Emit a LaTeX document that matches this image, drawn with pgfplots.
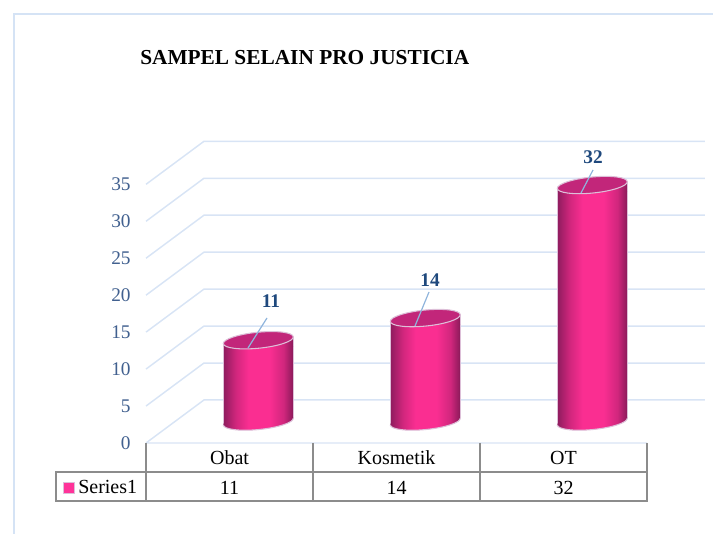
\documentclass[border=0pt]{standalone}
\usepackage{fontspec}
\setmainfont{Liberation Serif}
\usepackage{pgfplots}
\pgfplotsset{compat=1.18}
\definecolor{gridc}{HTML}{D8E4F5}
\definecolor{framec}{HTML}{D5E3F5}
\definecolor{tickc}{HTML}{41608F}
\definecolor{labc}{HTML}{1F497D}
\definecolor{leadc}{HTML}{8FB4DC}
\definecolor{cedge}{HTML}{DDBFD8}
\definecolor{ctop}{HTML}{C2267A}
\definecolor{tabc}{HTML}{8C8C8C}
\pgfdeclarehorizontalshading{cylh}{100bp}{
 rgb(0bp)=(0.56,0.11,0.37);
 rgb(25bp)=(0.56,0.11,0.37);
 rgb(34bp)=(0.82,0.15,0.49);
 rgb(43bp)=(0.98,0.18,0.57);
 rgb(58bp)=(0.98,0.18,0.57);
 rgb(68bp)=(0.82,0.15,0.49);
 rgb(75bp)=(0.54,0.10,0.35);
 rgb(100bp)=(0.54,0.10,0.35)}
\pgfdeclareplotmark{cyltop}{%
  \pgfpathmoveto{\pgfpoint{-26.25pt}{-2.6pt}}
  \pgfpathlineto{\pgfpoint{26.25pt}{2.6pt}}
  \pgfpathlineto{\pgfpoint{26.25pt}{-4.5pt}}
  \pgfpathlineto{\pgfpoint{-26.25pt}{-4.5pt}}
  \pgfpathclose
  \pgfshadepath{cylh}{0}\pgfusepath{discard}
  \pgfsetstrokecolor{cedge}\pgfsetfillcolor{ctop}\pgfsetlinewidth{0.8pt}
  \pgfpathmoveto{\pgfpoint{-26.25pt}{-2.6pt}}
  \pgfpathlineto{\pgfpoint{-26.25pt}{-4.5pt}}
  \pgfpathmoveto{\pgfpoint{26.25pt}{2.6pt}}
  \pgfpathlineto{\pgfpoint{26.25pt}{-4.5pt}}
  \pgfusepath{stroke}
  \pgfpathellipse{\pgfpointorigin}{\pgfpoint{26.24pt}{2.6pt}}{\pgfpoint{-0.6pt}{5.97pt}}
  \pgfusepath{fill,stroke}}
\pgfdeclareplotmark{cylbase}{%
  \pgfsetfillcolor{white}
  \pgfpathmoveto{\pgfpoint{-27.5pt}{-2.7pt}}
  \pgfpathlineto{\pgfpoint{27.5pt}{2.7pt}}
  \pgfpathlineto{\pgfpoint{27.5pt}{-9pt}}
  \pgfpathlineto{\pgfpoint{-27.5pt}{-9pt}}
  \pgfpathclose
  \pgfusepath{fill}
  \begin{pgfscope}
  \pgfpathellipse{\pgfpointorigin}{\pgfpoint{26.24pt}{2.6pt}}{\pgfpoint{-0.6pt}{5.97pt}}
  \pgfusepath{clip}
  \pgfpathrectangle{\pgfpoint{-26.25pt}{-9pt}}{\pgfpoint{52.5pt}{18pt}}
  \pgfshadepath{cylh}{0}\pgfusepath{discard}
  \end{pgfscope}
  \begin{pgfscope}
  \pgfpathmoveto{\pgfpoint{-27.5pt}{-2.7pt}}
  \pgfpathlineto{\pgfpoint{27.5pt}{2.7pt}}
  \pgfpathlineto{\pgfpoint{27.5pt}{-9pt}}
  \pgfpathlineto{\pgfpoint{-27.5pt}{-9pt}}
  \pgfpathclose
  \pgfusepath{clip}
  \pgfsetstrokecolor{cedge}\pgfsetlinewidth{0.8pt}
  \pgfpathellipse{\pgfpointorigin}{\pgfpoint{26.24pt}{2.6pt}}{\pgfpoint{-0.6pt}{5.97pt}}
  \pgfusepath{stroke}
  \end{pgfscope}}
\pgfplotsset{cylbar/.style={ybar,bar width=52.5pt,bar shift=0pt,draw=cedge,line width=0.8pt,shading=cylh,xshift=21.6pt,yshift=13.1pt,forget plot}}
\begin{document}
\begin{tikzpicture}
\useasboundingbox (0,0) rectangle (534.75pt,400.5pt);
\begin{scope}[x=.75pt,y=-.75pt,yshift=400.5pt]
 \draw[framec,line width=1.5pt] (713,14) -- (14,14) -- (14,534);
\end{scope}
\begin{axis}[
  at={(109.5pt,68.25pt)},anchor=south west,
  scale only axis,width=375.75pt,height=194pt,
  xmin=-0.5,xmax=2.5,ymin=0,ymax=35,clip=false,
  axis line style={draw=none},tick style={draw=none},
  xtick={0,1,2},xticklabels={Obat,Kosmetik,OT},
  ytick={0,5,...,35},
  /pgf/number format/assume math mode=true,
  yticklabel style={font=\fontsize{14.5}{16}\selectfont,text=tickc,xshift=-8pt},
  xticklabel style={font=\fontsize{15}{16}\selectfont,text=black,yshift=-2.5pt},
  unbounded coords=jump,
]
\addplot[gridc,line width=1.1pt,mark=none] coordinates {
 (-0.5,0)(-0.153,5.82)(2.847,5.82)(2.847,nan)
 (-0.5,5)(-0.153,10.82)(2.847,10.82)(2.847,nan)
 (-0.5,10)(-0.153,15.82)(2.847,15.82)(2.847,nan)
 (-0.5,15)(-0.153,20.82)(2.847,20.82)(2.847,nan)
 (-0.5,20)(-0.153,25.82)(2.847,25.82)(2.847,nan)
 (-0.5,25)(-0.153,30.82)(2.847,30.82)(2.847,nan)
 (-0.5,30)(-0.153,35.82)(2.847,35.82)(2.847,nan)
 (-0.5,35)(-0.153,40.82)(2.847,40.82)(2.847,nan)
 (-0.5,0)(2.5,0)};
\addplot[cylbar] coordinates {(0,11)};
\addplot[cylbar] coordinates {(1,14)};
\addplot[cylbar] coordinates {(2,32)};
\addplot[only marks,mark=cylbase,xshift=21.6pt,yshift=16.1pt]
  coordinates {(0,0)(1,0)(2,0)};
\addplot[only marks,mark=cyltop,xshift=21.6pt,yshift=16.1pt]
  coordinates {(0,11)(1,14)(2,32)};
\end{axis}
\begin{scope}[x=.75pt,y=-.75pt,yshift=400.5pt]
 \draw[tabc,line width=1.1pt] (146,443)--(146,501) (313,443)--(313,501) (480,443)--(480,501) (647,443)--(647,501)
   (56,472)--(647,472)--(647,501)--(56,501)--cycle;
 \node[font=\fontsize{15}{16}\selectfont] at (229.5,488) {11};
 \node[font=\fontsize{15}{16}\selectfont] at (396.5,488) {14};
 \node[font=\fontsize{15}{16}\selectfont] at (563.5,488) {32};
 \node[font=\fontsize{15}{16}\selectfont,anchor=west,inner sep=0pt] at (78,487) {Series1};
 \fill[draw=cedge,line width=.6pt,fill={rgb,1:red,1;green,0.2;blue,0.6}] (63,482) rectangle (74,493);
 \node[font=\fontsize{16}{20}\selectfont\bfseries,anchor=west,inner sep=0pt] at (140,58) {SAMPEL SELAIN PRO JUSTICIA};
 \draw[leadc,line width=.9pt] (248,348)--(267,318) (415,326)--(429,292) (581,193)--(593,170);
 \node[font=\fontsize{14.5}{16}\selectfont\bfseries,text=labc] at (271,301) {11};
 \node[font=\fontsize{14.5}{16}\selectfont\bfseries,text=labc] at (430,280) {14};
 \node[font=\fontsize{14.5}{16}\selectfont\bfseries,text=labc] at (593,157) {32};
\end{scope}
\end{tikzpicture}
\end{document}
